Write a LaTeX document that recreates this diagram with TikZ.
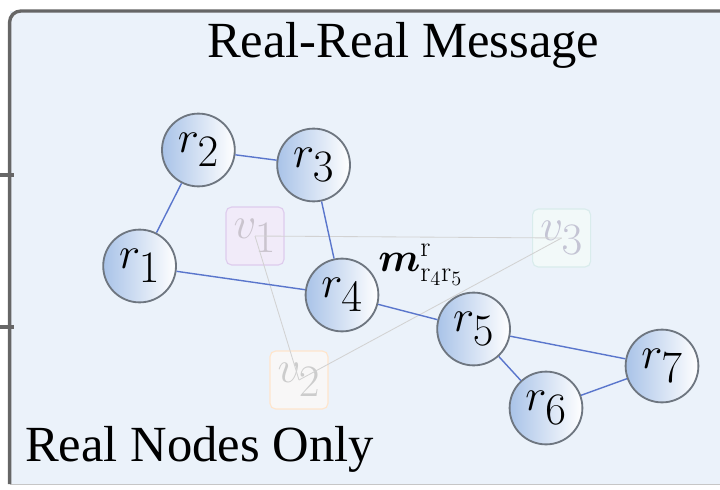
\RequirePackage{fix-cm}
\documentclass[tikz,border=0pt]{standalone}
\usepackage[no-math]{fontspec}
\setmainfont{Liberation Serif}
\usepackage{amsmath,bm}

\definecolor{panelbg}{HTML}{EBF2FA}
\definecolor{edgeblue}{HTML}{5A76CC}
\definecolor{ringgray}{HTML}{6E7680}
\definecolor{nodeblue}{HTML}{A9C3E8}

\begin{document}
\begin{tikzpicture}[
    realnode/.style={circle, draw=ringgray, line width=1.3pt, left color=nodeblue, right color=white,
                     minimum size=1.82cm, inner sep=0pt, font=\fontsize{32}{36}\selectfont},
    virtnode/.style={rounded corners=4pt, line width=0.8pt, minimum size=1.45cm, inner sep=0pt,
                     font=\fontsize{32}{36}\selectfont},
    realedge/.style={edgeblue, line width=1pt},
    virtedge/.style={gray!35, line width=0.6pt}
  ]

	\useasboundingbox (0,0) rectangle (18,12.225);
	\clip (0,0) rectangle (18,12.225);

	% panel
	\fill[panelbg] (0.24,0.12) rectangle (18.6,11.95);
	\draw[gray!45, line width=0.6pt] (0.24,0.12) -- (18.6,0.12);
	\draw[black!60, line width=2.4pt, rounded corners=8pt] (0.24,0.12) -- (0.24,11.95) -- (18.6,11.95);
	\draw[black!60, line width=2.4pt] (0,7.85) -- (0.36,7.85);
	\draw[black!60, line width=2.4pt] (0,4.05) -- (0.36,4.05);

	% virtual nodes (faded)
	\node[virtnode, draw=blue!30!violet!20, fill=blue!40!violet!8, text=blue!30!violet!15!gray!40] (v1) at (6.375,6.325) {$v_{\textstyle 1}$};
	\node[virtnode, draw=orange!20, fill=orange!4!gray!6, text=gray!40] (v2) at (7.475,2.725) {$v_{\textstyle 2}$};
	\node[virtnode, draw=teal!15, fill=teal!5, text=blue!15!gray!40] (v3) at (14.04,6.275) {$v_{\textstyle 3}$};

	\draw[virtedge] (v1.center) -- (v3.center);
	\draw[virtedge] (v1.center) -- (v2.center);
	\draw[virtedge] (v2.center) -- (v3.center);

	% real nodes
	\node[realnode] (r1) at (3.49,5.575) {$r_{\textstyle 1}$};
	\node[realnode] (r2) at (4.96,8.475) {$r_{\textstyle 2}$};
	\node[realnode] (r3) at (7.84,8.1) {$r_{\textstyle 3}$};
	\node[realnode] (r4) at (8.55,4.85) {$r_{\textstyle 4}$};
	\node[realnode] (r5) at (11.84,4.0) {$r_{\textstyle 5}$};
	\node[realnode] (r6) at (13.65,2.025) {$r_{\textstyle 6}$};
	\node[realnode] (r7) at (16.55,3.075) {$r_{\textstyle 7}$};

	\draw[realedge] (r1) -- (r2);
	\draw[realedge] (r2) -- (r3);
	\draw[realedge] (r3) -- (r4);
	\draw[realedge] (r1) -- (r4);
	\draw[realedge] (r4) -- (r5);
	\draw[realedge] (r5) -- (r6);
	\draw[realedge] (r5) -- (r7);
	\draw[realedge] (r6) -- (r7);

	% message label
	\node[font=\fontsize{29}{32}\selectfont, inner sep=0pt, anchor=base west] (msg) at (9.45,5.45) {$\bm{m}^{\mathrm{r}}_{\mathrm{r}_4\mathrm{r}_5}$};

	% titles
	\node[font=\fontsize{36}{40}\selectfont] (title) at (10.08,11.1) {Real-Real Message};
	\node[font=\fontsize{36}{40}\selectfont, anchor=west, inner sep=0pt] (caption) at (0.62,0.98) {Real Nodes Only};

\end{tikzpicture}
\end{document}
